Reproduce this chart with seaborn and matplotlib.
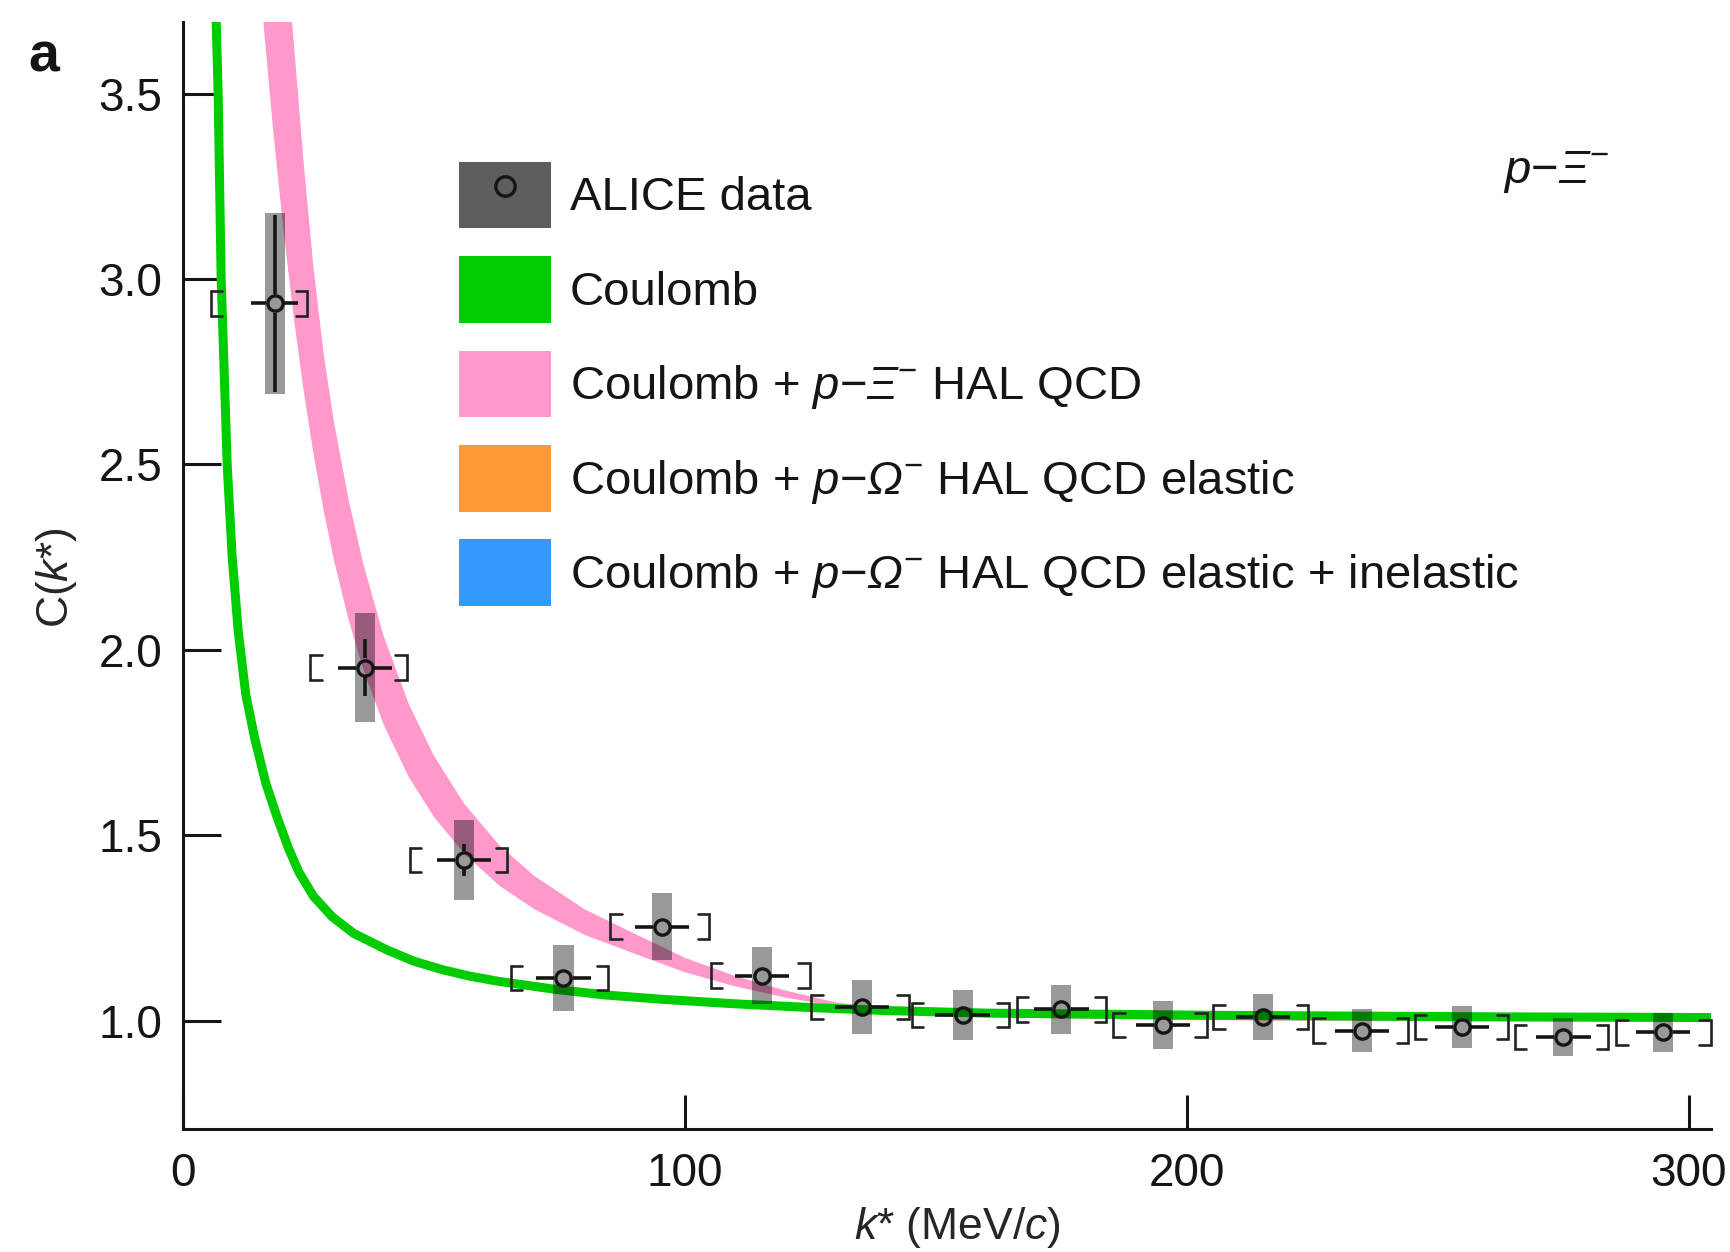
import matplotlib
matplotlib.use("Agg")
import matplotlib.pyplot as plt
import seaborn as sns
import numpy as np
from matplotlib.patches import Patch
from matplotlib.lines import Line2D

# ---------------- data ----------------
k_data = [18.3, 36.25, 56.0, 75.8, 95.4, 115.3, 135.3, 155.3, 175.0, 195.2,
          215.1, 234.9, 254.8, 275.0, 294.9]
C_data = [2.934, 1.952, 1.433, 1.114, 1.253, 1.121, 1.036, 1.015, 1.030, 0.988,
          1.010, 0.973, 0.982, 0.955, 0.968]
stat_err = [0.238, 0.078, 0.042, 0.020, 0.020, 0.018, 0.015, 0.013, 0.012, 0.011,
            0.010, 0.010, 0.009, 0.009, 0.009]
syst_err = [0.245, 0.147, 0.109, 0.089, 0.090, 0.076, 0.072, 0.068, 0.067, 0.064,
            0.062, 0.058, 0.056, 0.052, 0.052]
k_err = [4.7, 5.4, 5.4, 5.4, 5.4, 5.4, 5.4, 5.4, 5.4, 5.4, 5.4, 5.4, 5.4, 5.4, 5.4]
bin_lo = [5.5, 25.3, 45.2, 65.3, 85.1, 105.1, 125.1, 145.2, 166.1, 185.3,
          205.2, 225.2, 245.4, 265.3, 285.5]
bin_hi = [24.8, 44.6, 64.6, 84.7, 104.8, 124.9, 144.6, 164.5, 183.9, 203.9,
          224.2, 244.1, 264.0, 283.9, 304.4]

k_coulomb = [6.0, 6.6, 7.0, 7.6, 8.8, 9.8, 11.0, 12.5, 14.3, 16.5, 18.7, 21.0,
             23.1, 26.0, 29.7, 34.0, 40.7, 46.0, 51.7, 57.0, 62.7, 73.7, 84.0,
             95.7, 110.0, 125.0, 139.7, 160.0, 205.6, 260.0, 305.0]
C_coulomb = [3.85, 3.70, 3.50, 3.00, 2.50, 2.25, 2.05, 1.88, 1.76, 1.64, 1.55,
             1.465, 1.40, 1.335, 1.28, 1.235, 1.19, 1.16, 1.137, 1.12, 1.106,
             1.085, 1.069, 1.057, 1.045, 1.035, 1.027, 1.020, 1.014, 1.010, 1.008]

k_band = [15, 16, 18, 20, 22, 24, 26, 28, 30, 33, 36, 40, 45, 50, 56, 63, 70,
          80, 90, 100, 110, 120, 130, 140, 160, 200, 250, 305]
band_lo = [3.85, 3.694, 3.395, 3.133, 2.903, 2.702, 2.528, 2.377, 2.246, 2.080,
           1.944, 1.797, 1.656, 1.549, 1.450, 1.364, 1.300, 1.231, 1.180, 1.130,
           1.092, 1.062, 1.038, 1.024, 1.009, 1.001, 0.998, 0.998]
band_hi = [5.2, 4.8, 4.35, 3.98, 3.65, 3.32, 3.03, 2.80, 2.62, 2.404, 2.227,
           2.036, 1.853, 1.714, 1.585, 1.473, 1.390, 1.300, 1.234, 1.169, 1.120,
           1.081, 1.049, 1.031, 1.012, 1.004, 1.002, 1.002]

x_ticks = [0, 100, 200, 300]
y_ticks = [1.0, 1.5, 2.0, 2.5, 3.0, 3.5]
x_ticklabels = ["0", "100", "200", "300"]
y_ticklabels = ["1.0", "1.5", "2.0", "2.5", "3.0", "3.5"]

legend_labels = [
    "ALICE data",
    "Coulomb",
    r"Coulomb + $p$−$\mathsf{\Xi}^{-}$ HAL QCD",
    r"Coulomb + $p$−$\mathsf{\Omega}^{-}$ HAL QCD elastic",
    r"Coulomb + $p$−$\mathsf{\Omega}^{-}$ HAL QCD elastic + inelastic",
]

# ---------------- style ----------------
GREEN = "#00CC00"
PINK = "#FF99CC"
ORANGE = "#FF9933"
BLUE = "#3399FF"
DARK = "#151515"

sns.set_theme(style="ticks")
plt.rcParams.update({
    "mathtext.fontset": "custom",
    "mathtext.rm": "Liberation Sans",
    "mathtext.it": "Liberation Sans:italic",
    "mathtext.sf": "Liberation Sans:italic",
    "mathtext.bf": "Liberation Sans:bold",
    "axes.linewidth": 2.2,
    "axes.edgecolor": DARK,
    "text.color": DARK,
    "xtick.color": DARK,
    "ytick.color": DARK,
})
plt.rcParams["font.family"] = ["Liberation Sans", "DejaVu Sans"]

W, H = 1731, 1252
fig = plt.figure(figsize=(W / 100, H / 100), dpi=100)
ax_l, ax_r, ax_t, ax_b = 183, 1711, 21.7, 1129.4
ax = fig.add_axes([ax_l / W, 1 - ax_b / H, (ax_r - ax_l) / W, (ax_b - ax_t) / H])
ax.set_facecolor("white")
ax.set_xlim(0, 304.4)
ax.set_ylim(0.7063, 3.694)

# theory band
ax.fill_between(k_band, band_lo, band_hi, color=PINK, lw=0, zorder=1)
# Coulomb
sns.lineplot(x=k_coulomb, y=C_coulomb, color=GREEN, lw=6.5, ax=ax, sort=False,
             estimator=None, zorder=2)

kd = np.array(k_data)
Cd = np.array(C_data)
st = np.array(stat_err)
sy = np.array(syst_err)
ke = np.array(k_err)

# systematic boxes
ax.bar(kd, 2 * sy, bottom=Cd - sy, width=4.0, color="black", alpha=0.40,
       lw=0, zorder=3)

# brackets
bh = 0.033
ser = 2.3
for lo, hi, c in zip(bin_lo, bin_hi, C_data):
    ax.plot([lo + ser, lo, lo, lo + ser], [c + bh, c + bh, c - bh, c - bh],
            color="#222222", lw=1.9, zorder=4, solid_joinstyle="miter",
            clip_on=False)
    ax.plot([hi - ser, hi, hi, hi - ser], [c + bh, c + bh, c - bh, c - bh],
            color="#222222", lw=1.9, zorder=4, solid_joinstyle="miter",
            clip_on=False)

# error bars with a gap at the marker
ms = 11.0
mew = 2.4
r_px = (ms * 100 / 72 + mew * 100 / 72) / 2
gap_x = r_px / (1528 / 304.4)
gap_y = r_px / (1107.7 / (3.694 - 0.7063))
for x, y, s, e in zip(kd, Cd, st, ke):
    ax.hlines([y, y], [x - e, x + gap_x], [x - gap_x, x + e], color=DARK,
              lw=2.6, zorder=5)
    if s > gap_y:
        ax.vlines([x, x], [y + gap_y, y - s], [y + s, y - gap_y], color=DARK,
                  lw=2.6, zorder=5)

ax.plot(kd, Cd, ls="none", marker="o", ms=ms, mfc="none", mec=DARK, mew=mew,
        zorder=6)

# axes
sns.despine(ax=ax)
ax.spines["left"].set_linewidth(2.2)
ax.spines["bottom"].set_linewidth(2.2)
ax.set_xticks(x_ticks)
ax.set_xticklabels(x_ticklabels)
ax.set_yticks(y_ticks)
ax.set_yticklabels(y_ticklabels)
ax.tick_params(axis="x", direction="in", length=24.7, width=2.2, pad=16,
               labelsize=33)
ax.tick_params(axis="y", direction="in", length=27.5, width=2.2, pad=15,
               labelsize=33)
ax.set_xlabel(r"$k$* (MeV/$c$)", fontsize=32, va="top")
ax.xaxis.set_label_coords(0.507, -0.068)
ax.set_ylabel(r"C($k$*)", fontsize=32)
ax.yaxis.set_label_coords(-0.068, 0.498)

# legend
lfs = 34
handles = [
    (Patch(facecolor="#5E5E5E", edgecolor="none"),
     Line2D([], [], ls="none", marker="o", ms=14, mfc="none", mec=DARK, mew=2.4)),
    Patch(facecolor=GREEN, edgecolor="none"),
    Patch(facecolor=PINK, edgecolor="none"),
    Patch(facecolor=ORANGE, edgecolor="none"),
    Patch(facecolor=BLUE, edgecolor="none"),
]
ax.legend(handles, legend_labels, loc="upper left",
          bbox_to_anchor=(458.75 / W, 1 - 161.7 / H), bbox_transform=fig.transFigure,
          frameon=False, fontsize=lfs, borderpad=0, borderaxespad=0,
          handlelength=1.95, handleheight=1.795,
          labelspacing=0.588, handletextpad=0.40)

fig.text(28 / W, 1 - 72 / H, "a", fontsize=40, fontweight="bold", va="baseline",
         ha="left")
fig.text(1503 / W, 1 - 183 / H, r"$p$−$\mathsf{\Xi}^{-}$", fontsize=34,
         va="baseline", ha="left")

fig.savefig("out.png", dpi=100)
